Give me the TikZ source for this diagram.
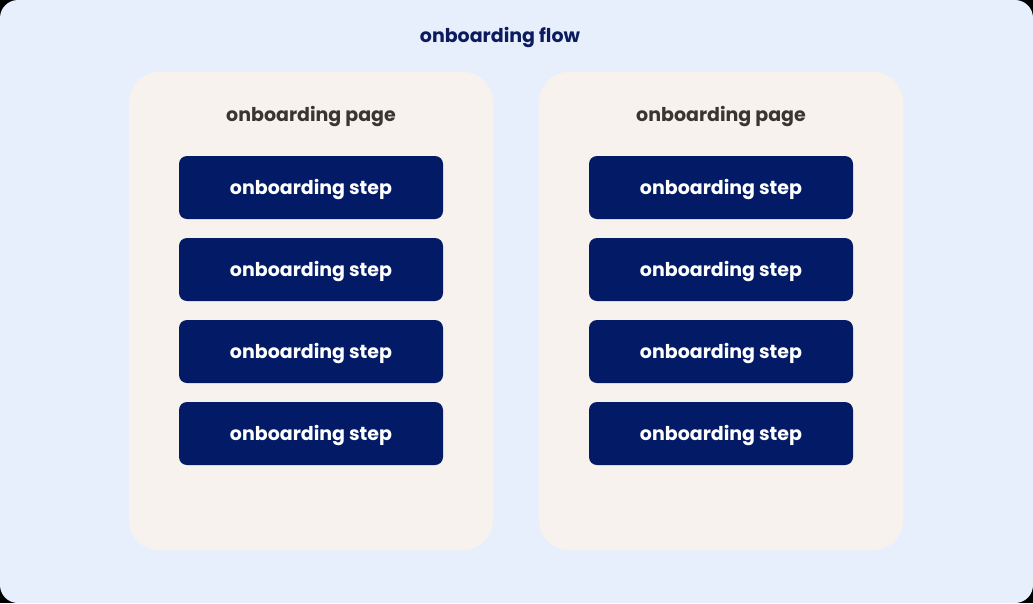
\documentclass[tikz,border=0pt]{standalone}
\usepackage{fontspec}
\setmainfont{Poppins}
\definecolor{canvas}{HTML}{E8EFFC}
\definecolor{panelfill}{HTML}{F8F2EE}
\definecolor{navy}{HTML}{031B66}
\definecolor{titlenavy}{HTML}{0B1B5E}
\definecolor{pagegray}{HTML}{3A3533}
\tikzset{
  panelbox/.style={fill=panelfill, draw=none, rounded corners=30pt},
  stepbox/.style={fill=navy, draw=none, rounded corners=8pt, minimum width=264pt,
    minimum height=63pt, inner sep=0pt, text=white},
  steptext/.style={text=white, font=\fontsize{19}{22}\selectfont\bfseries},
  pagelabel/.style={text=pagegray, font=\fontsize{19}{22}\selectfont\bfseries},
  flowlabel/.style={text=titlenavy, font=\fontsize{19}{22}\selectfont\bfseries},
}
\begin{document}
\begin{tikzpicture}[x=1pt,y=-1pt]
  % page frame: black corners behind a rounded light canvas
  \fill[black] (0,0) rectangle (1033,603);
  \fill[canvas, rounded corners=18pt] (0,0) rectangle (1033,603);
  \useasboundingbox (0,0) rectangle (1033,603);

  \node[flowlabel] (flow) at (500,37) {onboarding flow};

  % two onboarding pages
  \fill[panelbox] (129,72) rectangle (493,550);
  \fill[panelbox] (539,72) rectangle (903,550);
  \node[pagelabel] (pageA) at (311,116) {onboarding page};
  \node[pagelabel] (pageB) at (721,116) {onboarding page};

  % steps inside each page
  \foreach \i/\y in {1/187.5, 2/269.5, 3/351.5, 4/433.5} {
    \node[stepbox] (a\i) at (311,\y) {};
    \node[steptext] at ([yshift=-2pt]a\i.center) {onboarding step};
    \node[stepbox] (b\i) at (721,\y) {};
    \node[steptext] at ([yshift=-2pt]b\i.center) {onboarding step};
  }
\end{tikzpicture}
\end{document}
